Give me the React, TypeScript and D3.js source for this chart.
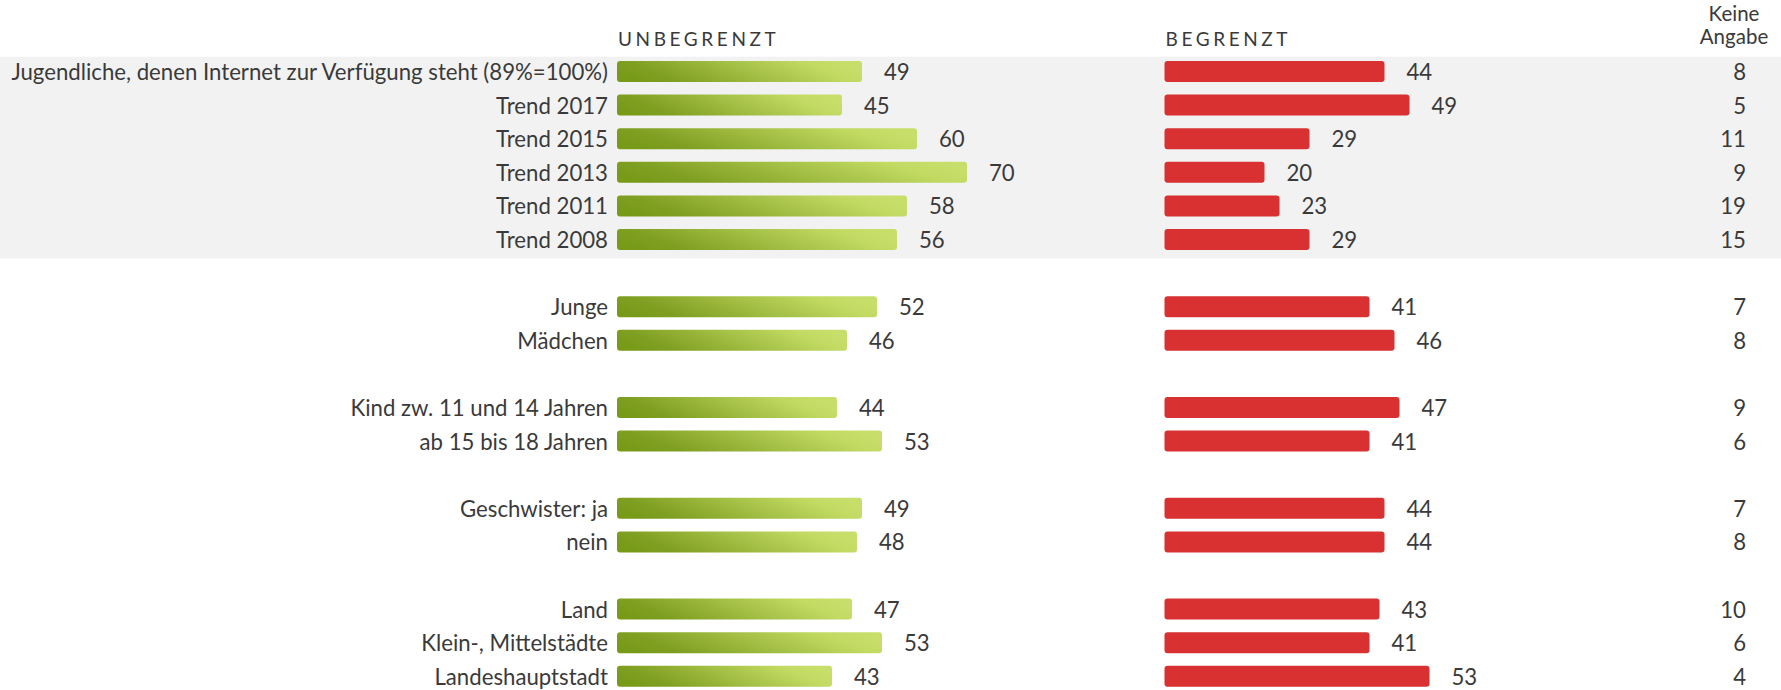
import React from "react";
import * as d3 from "d3";

const categories = [
  "Jugendliche, denen Internet zur Verfügung steht (89%=100%)",
  "Trend 2017",
  "Trend 2015",
  "Trend 2013",
  "Trend 2011",
  "Trend 2008",
  "Junge",
  "Mädchen",
  "Kind zw. 11 und 14 Jahren",
  "ab 15 bis 18 Jahren",
  "Geschwister: ja",
  "nein",
  "Land",
  "Klein-, Mittelstädte",
  "Landeshauptstadt",
];
const groupSizes = [6, 2, 2, 2, 3];
const unbegrenzt = [49, 45, 60, 70, 58, 56, 52, 46, 44, 53, 49, 48, 47, 53, 43];
const begrenzt = [44, 49, 29, 20, 23, 29, 41, 46, 47, 41, 44, 44, 43, 41, 53];
const keineAngabe = [8, 5, 11, 9, 19, 15, 7, 8, 9, 6, 7, 8, 10, 6, 4];
const seriesTitles = ["UNBEGRENZT", "BEGRENZT"];
const naTitle = ["Keine", "Angabe"];

const W = 1781;
const H = 690;
const FONT = "Lato, 'Noto Sans', sans-serif";
const TEXT = "#3a3a3a";

// slot index per category (empty slot between groups)
const slotIndex: number[] = [];
{
  let s = 0;
  groupSizes.forEach((g, gi) => {
    for (let i = 0; i < g; i++) slotIndex.push(s++);
    if (gi < groupSizes.length - 1) s++;
  });
}
const nSlots = slotIndex[slotIndex.length - 1] + 1;

export default function App() {
  const step = 33.6;
  const top = 56.7;
  const y = d3
    .scaleBand<number>()
    .domain(d3.range(nSlots))
    .range([top, top + step * nSlots])
    .padding(0);
  const barH = 21;
  const barOff = 4.3;
  const xLen = d3.scaleLinear().domain([0, 100]).range([0, 500]);
  const greenX0 = 617;
  const redX0 = 1164.5;
  const labelRight = 608;
  const naRight = 1746;
  const fs = 22.2;

  const bandTop = y(0)!;
  const bandBottom = y(groupSizes[0] - 1)! + y.bandwidth();

  return (
    <div style={{ position: "absolute", left: 0, top: 0 }}>
      <svg width={W} height={H} style={{ display: "block" }} fontFamily={FONT}>
        <defs>
          <linearGradient
            id="greenGrad"
            x1="0"
            y1="0.5"
            x2="1"
            y2="0.5"
            gradientTransform="rotate(-12 0.5 0.5)"
          >
            <stop offset="0" stopColor="#789a19" />
            <stop offset="0.15" stopColor="#7f9f22" />
            <stop offset="0.85" stopColor="#c2da62" />
            <stop offset="1" stopColor="#c7de6a" />
          </linearGradient>
        </defs>
        <rect x={0} y={bandTop} width={W} height={bandBottom - bandTop} fill="#f2f2f2" />

        <text x={greenX0 + 1} y={46} fontSize={19} letterSpacing={3.6} fill={TEXT}>
          {seriesTitles[0]}
        </text>
        <text x={redX0 + 1} y={46} fontSize={19} letterSpacing={3.6} fill={TEXT}>
          {seriesTitles[1]}
        </text>
        <text x={1734} y={21} fontSize={20.5} textAnchor="middle" fill={TEXT}>
          {naTitle[0]}
        </text>
        <text x={1734} y={43.5} fontSize={20.5} textAnchor="middle" fill={TEXT}>
          {naTitle[1]}
        </text>

        {categories.map((c, i) => {
          const t = y(slotIndex[i])!;
          const by = t + barOff;
          const ty = t + 23.3;
          const gw = xLen(unbegrenzt[i]);
          const rw = xLen(begrenzt[i]);
          return (
            <g key={i}>
              <text x={labelRight} y={ty} fontSize={fs} textAnchor="end" fill={TEXT}>
                {c}
              </text>
              <rect x={greenX0} y={by} width={gw} height={barH} rx={3} fill="url(#greenGrad)" />
              <text x={greenX0 + gw + 22} y={ty} fontSize={fs} fill={TEXT}>
                {unbegrenzt[i]}
              </text>
              <rect x={redX0} y={by} width={rw} height={barH} rx={3} fill="#d93131" />
              <text x={redX0 + rw + 22} y={ty} fontSize={fs} fill={TEXT}>
                {begrenzt[i]}
              </text>
              <text x={naRight} y={ty} fontSize={fs} textAnchor="end" fill={TEXT}>
                {keineAngabe[i]}
              </text>
            </g>
          );
        })}
      </svg>
    </div>
  );
}
